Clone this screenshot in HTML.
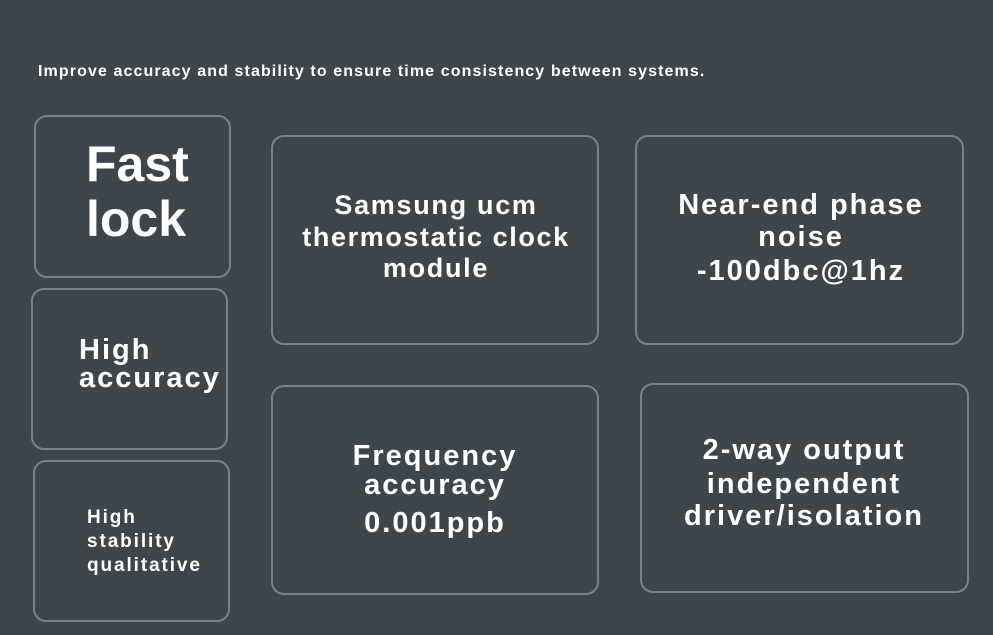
<!DOCTYPE html>
<html><head><style>
body{margin:0;width:993px;height:635px;background:#3e464c;position:relative;overflow:hidden;font-family:"Liberation Sans",sans-serif;font-weight:bold;color:#fff}
.b{position:absolute;border:2px solid #7a8285;border-radius:13px;box-sizing:border-box}
.t{position:absolute;white-space:nowrap;line-height:1;letter-spacing:2px}
.c{transform:translateX(-50%);padding-left:2px}
</style></head><body>
<div class="t" style="left:38px;top:64px;font-size:16px;letter-spacing:1.1px">Improve accuracy and stability to ensure time consistency between systems.</div>
<div class="b" style="left:34px;top:115px;width:197px;height:163px"></div>
<div class="b" style="left:31px;top:288px;width:197px;height:162px"></div>
<div class="b" style="left:33px;top:460px;width:197px;height:162px"></div>
<div class="b" style="left:271px;top:135px;width:328px;height:210px"></div>
<div class="b" style="left:635px;top:135px;width:329px;height:210px"></div>
<div class="b" style="left:271px;top:385px;width:328px;height:210px"></div>
<div class="b" style="left:640px;top:383px;width:329px;height:210px"></div>

<div class="t" style="left:86px;top:139px;font-size:50px;letter-spacing:0">Fast</div>
<div class="t" style="left:86px;top:194px;font-size:50px;letter-spacing:0">lock</div>

<div class="t" style="left:79px;top:336px;font-size:29px">High</div>
<div class="t" style="left:79px;top:364px;font-size:29px">accuracy</div>

<div class="t" style="left:87px;top:508px;font-size:19px;letter-spacing:1.9px">High</div>
<div class="t" style="left:87px;top:532px;font-size:19px;letter-spacing:1.9px">stability</div>
<div class="t" style="left:87px;top:556px;font-size:19px;letter-spacing:1.9px">qualitative</div>

<div class="t c" style="left:435px;top:192px;font-size:27px;letter-spacing:1.7px">Samsung ucm</div>
<div class="t c" style="left:435px;top:224px;font-size:27px;letter-spacing:1.6px">thermostatic clock</div>
<div class="t c" style="left:435px;top:255px;font-size:27px;letter-spacing:1.7px">module</div>

<div class="t c" style="left:800px;top:191px;font-size:29px">Near-end phase</div>
<div class="t c" style="left:800px;top:223px;font-size:29px">noise</div>
<div class="t c" style="left:800px;top:257px;font-size:29px">-100dbc@1hz</div>

<div class="t c" style="left:434px;top:442px;font-size:29px">Frequency</div>
<div class="t c" style="left:434px;top:471px;font-size:29px">accuracy</div>
<div class="t c" style="left:434px;top:509px;font-size:29px">0.001ppb</div>

<div class="t c" style="left:803px;top:436px;font-size:29px">2-way output</div>
<div class="t c" style="left:803px;top:470px;font-size:29px">independent</div>
<div class="t c" style="left:803px;top:502px;font-size:29px">driver/isolation</div>
</body></html>
